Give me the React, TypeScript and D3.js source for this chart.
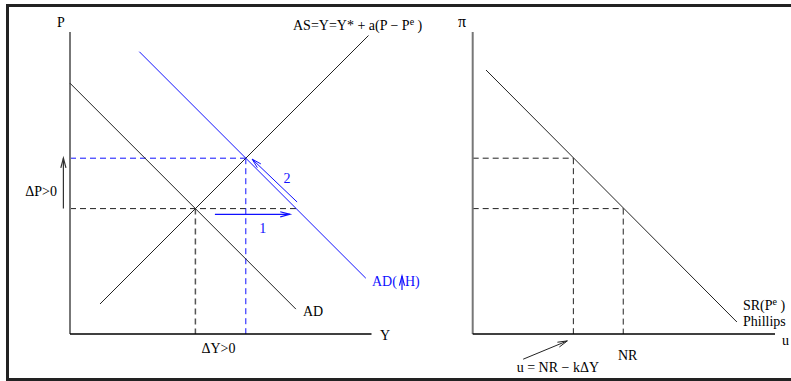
import React from "react";
import * as d3 from "d3";

// ---- Data (conceptual model units, 0..10 on each axis) ----
const asCurve: [number, number][] = [[1, 1], [9.95, 9.95]];
const adCurve: [number, number][] = [[0, 8.36], [7.53, 0.83]];
const adHCurve: [number, number][] = [[2.31, 9.41], [9.86, 1.86]];
const eqY = [4.18, 5.86]; // Y0, Y1
const eqP = [4.18, 5.86]; // P0, P1
const adHatP0 = 7.54;
const arrow1: [number, number][] = [[4.83, 3.99], [7.33, 3.99]];
const arrow2: [number, number][] = [[7.57, 4.4], [6.07, 5.83]];
const dPArrowX = -0.22;

const phillips: [number, number][] = [[0.44, 8.8], [8.74, 0.4]];
const uVals = [3.33, 4.98]; // u = NR - kΔY, NR
const piVals = [5.86, 4.18];
const uArrow: [number, number][] = [[1.67, -0.84], [3.13, -0.23]];

const W = 791;
const H = 381;
const BLUE = "#1010ff";
const INK = "#222";
const FONT = "'Liberation Serif', 'Times New Roman', serif";

const xL = d3.scaleLinear().domain([0, 10]).range([70, 370]);
const yL = d3.scaleLinear().domain([0, 10]).range([334, 34]);
const xR = d3.scaleLinear().domain([0, 10]).range([472.7, 775]);
const yR = yL;

function Arrow({ x1, y1, x2, y2, color, w = 1 }: any) {
  const ang = Math.atan2(y2 - y1, x2 - x1);
  const L = 10;
  const a = 0.26;
  const p1 = [x2 - L * Math.cos(ang - a), y2 - L * Math.sin(ang - a)];
  const p2 = [x2 - L * Math.cos(ang + a), y2 - L * Math.sin(ang + a)];
  return (
    <g stroke={color} strokeWidth={w} fill="none">
      <line x1={x1} y1={y1} x2={x2} y2={y2} />
      <path d={`M${p1[0]},${p1[1]}L${x2},${y2}L${p2[0]},${p2[1]}`} />
    </g>
  );
}

export default function App() {
  const lineL = d3.line<[number, number]>().x((d) => xL(d[0])).y((d) => yL(d[1]));
  const lineR = d3.line<[number, number]>().x((d) => xR(d[0])).y((d) => yR(d[1]));
  const ts = { fontFamily: FONT, fontSize: 14 } as any;

  return (
    <svg width={W} height={H} style={{ position: "absolute", left: 0, top: 0 }}>
      <rect x={0} y={0} width={W} height={H} fill="#fff" />
      <path d={`M${W},5.5H7.5V379.5H${W}`} fill="none" stroke={INK} strokeWidth={3} />

      {/* ---------- Left panel ---------- */}
      <g fill="none" strokeDasharray="6,4">
        <line x1={xL(0)} x2={xL(adHatP0)} y1={yL(eqP[0])} y2={yL(eqP[0])} stroke={INK} strokeWidth={1} />
        <line x1={xL(eqY[0])} x2={xL(eqY[0])} y1={yL(eqP[0])} y2={yL(0)} stroke="#555" strokeWidth={1.5} />
        <line x1={xL(0)} x2={xL(eqY[1])} y1={yL(eqP[1])} y2={yL(eqP[1])} stroke={BLUE} strokeWidth={1} />
        <line x1={xL(eqY[1])} x2={xL(eqY[1])} y1={yL(eqP[1])} y2={yL(0)} stroke={BLUE} strokeWidth={1} />
      </g>
      <line x1={xL(0)} x2={xL(0)} y1={yL(0)} y2={32} stroke="#777" strokeWidth={2} />
      <line x1={xL(0)} x2={371.5} y1={yL(0)} y2={yL(0)} stroke="#000" strokeWidth={1.5} />
      <path d={lineL(asCurve)!} stroke={INK} fill="none" strokeWidth={1} />
      <path d={lineL(adCurve)!} stroke={INK} fill="none" strokeWidth={1} />
      <path d={lineL(adHCurve)!} stroke={BLUE} fill="none" strokeWidth={1} />
      <Arrow x1={xL(arrow1[0][0])} y1={yL(arrow1[0][1])} x2={xL(arrow1[1][0])} y2={yL(arrow1[1][1])} color={BLUE} w={1.2} />
      <Arrow x1={xL(arrow2[0][0])} y1={yL(arrow2[0][1])} x2={xL(arrow2[1][0])} y2={yL(arrow2[1][1])} color={BLUE} w={1} />
      <Arrow x1={xL(dPArrowX)} y1={yL(eqP[0])} x2={xL(dPArrowX)} y2={yL(eqP[1])} color="#333" w={1.2} />

      <text x={61} y={27} textAnchor="middle" style={ts}>P</text>
      <text x={293} y={30} style={ts}>
        AS=Y=Y* + a(P − P<tspan dy={-5} fontSize={10}>e</tspan><tspan dy={5}> )</tspan>
      </text>
      <text x={57} y={196} textAnchor="end" style={ts}>ΔP&gt;0</text>
      <text x={218.5} y={353} textAnchor="middle" style={ts}>ΔY&gt;0</text>
      <text x={380} y={340} style={ts}>Y</text>
      <text x={303} y={316} style={ts}>AD</text>
      <text x={262.7} y={233} textAnchor="middle" style={ts} fill={BLUE}>1</text>
      <text x={287} y={183} textAnchor="middle" style={ts} fill={BLUE}>2</text>
      <text x={372} y={286} style={ts} fill={BLUE}>AD(</text>
      <Arrow x1={402} y1={290} x2={402} y2={276} color={BLUE} w={1.2} />
      <text x={405} y={286} style={ts} fill={BLUE}>H)</text>

      {/* ---------- Right panel ---------- */}
      <g fill="none" strokeDasharray="6,4" stroke={INK} strokeWidth={1}>
        <line x1={xR(0)} x2={xR(uVals[0])} y1={yR(piVals[0])} y2={yR(piVals[0])} />
        <line x1={xR(uVals[0])} x2={xR(uVals[0])} y1={yR(piVals[0])} y2={yR(0)} />
        <line x1={xR(0)} x2={xR(uVals[1])} y1={yR(piVals[1])} y2={yR(piVals[1])} />
        <line x1={xR(uVals[1])} x2={xR(uVals[1])} y1={yR(piVals[1])} y2={yR(0)} />
      </g>
      <line x1={xR(0)} x2={xR(0)} y1={yR(0)} y2={32} stroke="#777" strokeWidth={2} />
      <line x1={xR(0)} x2={xR(10)} y1={yR(0)} y2={yR(0)} stroke="#000" strokeWidth={1.5} />
      <path d={lineR(phillips)!} stroke={INK} fill="none" strokeWidth={1} />
      <Arrow x1={xR(uArrow[0][0])} y1={yR(uArrow[0][1])} x2={xR(uArrow[1][0])} y2={yR(uArrow[1][1])} color={INK} w={1} />

      <text x={462} y={27} textAnchor="middle" style={{ ...ts, fontSize: 16 }}>π</text>
      <text x={743} y={310} style={ts}>
        SR(P<tspan dy={-5} fontSize={10}>e</tspan><tspan dy={5}> )</tspan>
      </text>
      <text x={743} y={326} style={ts}>Phillips</text>
      <text x={782} y={345} style={ts}>u</text>
      <text x={618} y={360} style={ts}>NR</text>
      <text x={516.7} y={372} style={ts}>u = NR − kΔY</text>
    </svg>
  );
}
